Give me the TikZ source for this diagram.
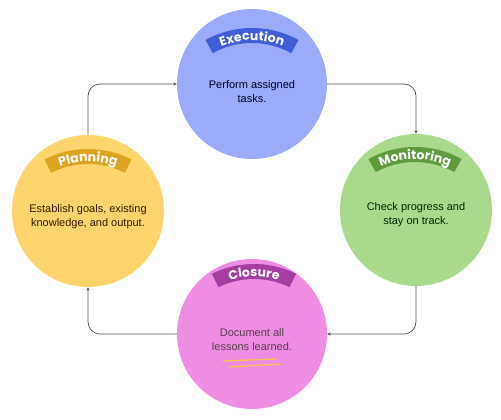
\documentclass[tikz,border=0pt]{standalone}
\usepackage{fontspec}
\setmainfont{Liberation Sans}
\newfontfamily\bandfont{Poppins}
\usetikzlibrary{calc, arrows.meta, decorations.text}

\definecolor{execFill}{HTML}{9BABFA}
\definecolor{execBand}{HTML}{3F5FD6}
\definecolor{planFill}{HTML}{FDD56C}
\definecolor{planBand}{HTML}{DDA422}
\definecolor{monFill}{HTML}{A9D98B}
\definecolor{monBand}{HTML}{5C9C3C}
\definecolor{closFill}{HTML}{EF8CE3}
\definecolor{closBand}{HTML}{A63EA2}
\definecolor{strich}{HTML}{F7C15A}

\begin{document}
\begin{tikzpicture}[x=1pt, y=1pt,
    phase/.style={circle, inner sep=0pt, minimum size=#1},
    phase/.default=152pt,
    beschr/.style={align=center, font=\fontsize{11}{14}\selectfont},
    fluss/.style={draw=black!70, line width=0.7pt, rounded corners=12pt,
        -{Stealth[length=3.5pt, width=3pt]}},
    bandtext/.style={decorate, decoration={text along path, text align=center,
        text color=white}}]

    \useasboundingbox (0,0) rectangle (501,420);

    % 1. Die vier Phasen als Kreise
    \node[phase=150pt, fill=execFill] (exec) at (252,336) {};
    \node[phase, fill=planFill] (plan) at (88,209) {};
    \node[phase, fill=monFill] (mon) at (416,210) {};
    \node[phase=150pt, fill=closFill] (clos) at (252,86) {};

    % 2. Verbindungspfeile im Uhrzeigersinn
    \draw[fluss] (plan.north) |- (exec.west);
    \draw[fluss] (exec.east) -| (mon.north);
    \draw[fluss] (mon.south) |- (clos.east);
    \draw[fluss] (clos.west) -| (plan.south);

    % 3. Gebogene Baender mit Titel
    % Execution (Bogenmittelpunkt unter dem Band)
    \fill[execBand] ([shift={(61:96)}]252,296) arc[start angle=61, end angle=119, radius=96]
        -- ([shift={(119:81)}]252,296) arc[start angle=119, end angle=61, radius=81] -- cycle;
    \path[bandtext, decoration={text={|\bandfont\bfseries\fontsize{12.5}{12.5}\selectfont|Execution}}]
        ([shift={(119:83.5)}]252,296) arc[start angle=119, end angle=61, radius=83.5];

    % Planning
    \fill[planBand] ([shift={(63:96)}]88,175) arc[start angle=63, end angle=117, radius=96]
        -- ([shift={(117:81)}]88,175) arc[start angle=117, end angle=63, radius=81] -- cycle;
    \path[bandtext, decoration={text={|\bandfont\bfseries\fontsize{12.5}{12.5}\selectfont|Planning}}]
        ([shift={(117:83.5)}]88,175) arc[start angle=117, end angle=63, radius=83.5];

    % Monitoring
    \fill[monBand] ([shift={(61:96)}]415,177) arc[start angle=61, end angle=119, radius=96]
        -- ([shift={(119:81)}]415,177) arc[start angle=119, end angle=61, radius=81] -- cycle;
    \path[bandtext, decoration={text={|\bandfont\bfseries\fontsize{12.5}{12.5}\selectfont|Monitoring}}]
        ([shift={(119:83.5)}]415,177) arc[start angle=119, end angle=61, radius=83.5];

    % Closure
    \fill[closBand] ([shift={(64:96)}]254,60) arc[start angle=64, end angle=116, radius=96]
        -- ([shift={(116:81)}]254,60) arc[start angle=116, end angle=64, radius=81] -- cycle;
    \path[bandtext, decoration={text={|\bandfont\bfseries\fontsize{12.5}{12.5}\selectfont|Closure}}]
        ([shift={(116:83.5)}]254,60) arc[start angle=116, end angle=64, radius=83.5];

    % 4. Beschreibungen
    \node[beschr, text=black!85!blue] (exectext) at (252,328) {Perform assigned\\tasks.};
    \node[beschr, text=black!80!orange] (plantext) at (88,203) {Establish goals, existing\\knowledge, and output.};
    \node[beschr, text=black!85!green] (montext) at (416,205) {Check progress and\\stay on track.};
    \node[beschr, text=black!75!magenta] (clostext) at (252,80) {Document all\\lessons learned.};

    % Zwei Striche unter Closure
    \draw[strich, line width=1.4pt, line cap=round] (223,59) -- (276,61);
    \draw[strich, line width=1.4pt, line cap=round] (229,53) -- (281,56);

\end{tikzpicture}
\end{document}
